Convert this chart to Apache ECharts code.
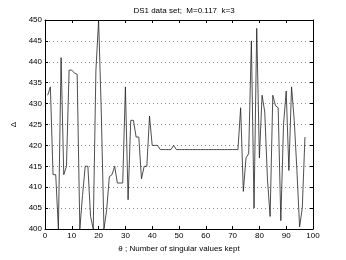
<!DOCTYPE html>
<html>
<head>
<meta charset="utf-8">
<script src="https://cdn.jsdelivr.net/npm/echarts@6/dist/echarts.min.js"></script>
<style>
html,body{margin:0;padding:0;background:#fff;}
#c{width:346px;height:260px;}
</style>
</head>
<body>
<div id="c"></div>
<script>
var titleText = "DS1 data set;  M=0.117  k=3";
var xLabel = "\u03b8 ; Number of singular values kept";
var yLabel = "\u0394";
var xTicks = [0,10,20,30,40,50,60,70,80,90,100];
var yTicks = [400,405,410,415,420,425,430,435,440,445,450];
var theta = [1,2,3,4,5,6,7,8,9,10,11,12,13,14,15,16,17,18,19,20,
  21,22,23,24,25,26,27,28,29,30,31,32,33,34,35,36,37,38,39,40,
  41,42,43,44,45,46,47,48,49,50,51,52,53,54,55,56,57,58,59,60,
  61,62,63,64,65,66,67,68,69,70,71,72,73,74,75,76,77,78,79,80,
  81,82,83,84,85,86,87,88,89,90,91,92,93,94,95,96,97];
var delta = [432,434,413,413,400,441,413,415,438,438,437.3,437,400,408,415,415,403,400,438,450,
  428,400,404.5,412.5,413,415,411,411,411,434,407,426,426,422,422,412,415,415,427,420,
  420,420,419,419,419,419,419,420,419,419,419,419,419,419,419,419,419,419,419,419,
  419,419,419,419,419,419,419,419,419,419,419,419,429,409,417,418,445,405,448,417,
  432,428,412,403,432,429.5,429,402,425,433,414,434,426,414,400.5,405,422];

var pts = theta.map(function(t,i){return [t, delta[i]];});
var font = "'Liberation Sans', Arial, sans-serif";
var chart = echarts.init(document.getElementById('c'), null, {renderer:'canvas'});
var axisCommon = {
  axisLine:{show:true, onZero:false, lineStyle:{color:'#000', width:1}},
  axisTick:{show:true, inside:true, length:3, lineStyle:{color:'#000', width:1}},
};
chart.setOption({
  animation:false,
  backgroundColor:'#fff',
  title:{text:titleText, left:179, top:2, textAlign:'center',
    textStyle:{fontFamily:font, fontSize:8, fontWeight:'normal', color:'#000'}},
  grid:{left:45, right:33, top:20, bottom:31, show:false},
  xAxis:[
    Object.assign({type:'value', min:xTicks[0], max:xTicks[xTicks.length-1], interval:10, position:'bottom',
      name:xLabel, nameLocation:'middle', nameGap:15,
      nameTextStyle:{fontFamily:font, fontSize:8, color:'#000'},
      axisLabel:{fontFamily:font, fontSize:8, color:'#000', margin:3},
      splitLine:{show:false}}, axisCommon),
    Object.assign({type:'value', min:xTicks[0], max:xTicks[xTicks.length-1], interval:10, position:'top',
      axisLabel:{show:false}, splitLine:{show:false}}, axisCommon)
  ],
  yAxis:[
    Object.assign({type:'value', min:yTicks[0], max:yTicks[yTicks.length-1], interval:5, position:'left',
      name:yLabel, nameLocation:'middle', nameGap:21,
      nameTextStyle:{fontFamily:font, fontSize:8, color:'#000'},
      axisLabel:{fontFamily:font, fontSize:8, color:'#000', margin:3},
      splitLine:{show:true, lineStyle:{color:'#888', type:[1,3], width:1}}}, axisCommon),
    Object.assign({type:'value', min:yTicks[0], max:yTicks[yTicks.length-1], interval:5, position:'right',
      axisLabel:{show:false}, splitLine:{show:false}}, axisCommon)
  ],
  series:[{
    type:'line', data:pts, xAxisIndex:0, yAxisIndex:0,
    showSymbol:false, symbol:'none', clip:true,
    lineStyle:{color:'#222', width:0.8}
  }]
});
</script>
</body>
</html>
